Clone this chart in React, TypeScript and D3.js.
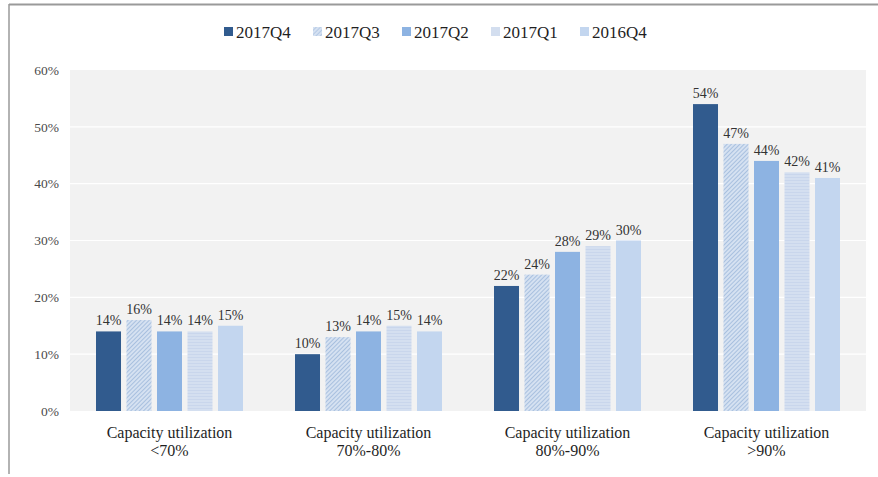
import React from "react";
import * as d3 from "d3";

const categories = ["Capacity utilization\n<70%", "Capacity utilization\n70%-80%", "Capacity utilization\n80%-90%", "Capacity utilization\n>90%"];
const seriesNames = ["2017Q4", "2017Q3", "2017Q2", "2017Q1", "2016Q4"];
const v2017Q4 = [14, 10, 22, 54];
const v2017Q3 = [16, 13, 24, 47];
const v2017Q2 = [14, 14, 28, 44];
const v2017Q1 = [14, 15, 29, 42];
const v2016Q4 = [15, 14, 30, 41];
const seriesValues = [v2017Q4, v2017Q3, v2017Q2, v2017Q1, v2016Q4];
const yTicks = [0, 10, 20, 30, 40, 50, 60];

const W = 878, H = 477;
const plot = { left: 70, right: 866, top: 70, bottom: 411 };
const fills = ["#315b8e", "url(#hatchDiag)", "#8db3e2", "url(#hatchHoriz)", "#c3d6ef"];
const legendFills = ["#315b8e", "url(#hatchDiagL)", "#8db3e2", "#d3deef", "#c3d6ef"];
const font = "'Liberation Serif', 'Times New Roman', serif";

export default function App() {
  const x0 = d3.scaleBand<string>().domain(categories).range([plot.left, plot.right]).padding(0);
  const x1 = d3.scaleBand<string>().domain(seriesNames).range([26, 173]).paddingInner(0.18).paddingOuter(0);
  const y = d3.scaleLinear().domain([0, 60]).range([plot.bottom, plot.top]);
  const legendX = [224, 313, 402, 491, 580];

  return (
    <svg width={W} height={H} style={{ position: "absolute", left: 0, top: 0, background: "#fff" }} fontFamily={font}>
      <defs>
        <pattern id="hatchDiag" patternUnits="userSpaceOnUse" width="3" height="3" patternTransform="rotate(45)">
          <rect width="3" height="3" fill="#d5e1f1" />
          <line x1="0" y1="0" x2="0" y2="3" stroke="#8faed6" strokeWidth="1.3" />
        </pattern>
        <pattern id="hatchDiagL" patternUnits="userSpaceOnUse" width="3" height="3" patternTransform="rotate(45)">
          <rect width="3" height="3" fill="#d5e1f1" />
          <line x1="0" y1="0" x2="0" y2="3" stroke="#9fbade" strokeWidth="1.2" />
        </pattern>
        <pattern id="hatchHoriz" patternUnits="userSpaceOnUse" width="4" height="3">
          <rect width="4" height="3" fill="#d4dff0" />
          <line x1="0" y1="0.5" x2="4" y2="0.5" stroke="#c9d6ec" strokeWidth="1" />
        </pattern>
      </defs>
      {/* frame */}
      <line x1={9} y1={4.5} x2={878} y2={4.5} stroke="#9a9a9a" strokeWidth={2} />
      <line x1={9} y1={4} x2={9} y2={474} stroke="#9a9a9a" strokeWidth={1.5} />
      {/* plot background */}
      <rect x={plot.left} y={plot.top} width={plot.right - plot.left} height={plot.bottom - plot.top} fill="#f2f2f2" />
      {yTicks.map((t) => (
        <g key={t}>
          {t > 0 && t < 60 && (
            <line x1={plot.left} x2={plot.right} y1={y(t)} y2={y(t)} stroke="#ffffff" strokeWidth={1.2} />
          )}
          <text x={59} y={y(t)} dy="0.35em" textAnchor="end" fontSize={13.5} fill="#4a4a4a">
            {t}%
          </text>
        </g>
      ))}
      {categories.map((c, ci) => (
        <g key={c} transform={`translate(${x0(c)},0)`}>
          {seriesNames.map((s, si) => {
            const v = seriesValues[si][ci];
            const bx = x1(s)!;
            return (
              <g key={s}>
                <rect x={bx} y={y(v)} width={x1.bandwidth()} height={y(0) - y(v)} fill={fills[si]} />
                <text x={bx + x1.bandwidth() / 2} y={y(v) - 6} textAnchor="middle" fontSize={14} fill="#333333">
                  {v}%
                </text>
              </g>
            );
          })}
          {c.split("\n").map((line, li) => (
            <text key={li} x={x0.bandwidth() / 2} y={438 + li * 18} textAnchor="middle" fontSize={16} fill="#1f1f1f">
              {line}
            </text>
          ))}
        </g>
      ))}
      {/* legend */}
      {seriesNames.map((s, i) => (
        <g key={s} transform={`translate(${legendX[i]},0)`}>
          <rect x={0} y={27} width={9} height={9} fill={legendFills[i]} />
          <text x={12} y={38} fontSize={17} fill="#1f1f1f">
            {s}
          </text>
        </g>
      ))}
    </svg>
  );
}
